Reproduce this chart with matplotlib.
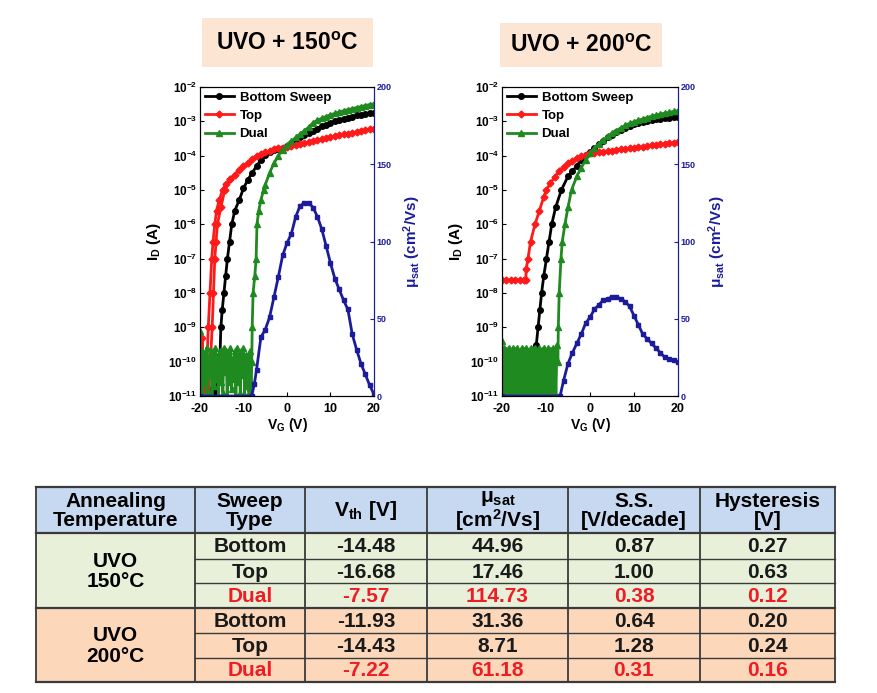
########################################################
# transfer curves (UVO 150 / 200 C) + parameter table
########################################################
import numpy as np
import matplotlib
matplotlib.use('Agg')
import matplotlib.pyplot as plt
from matplotlib.patches import Rectangle

plt.rcParams['font.family'] = ['Liberation Sans', 'DejaVu Sans']
plt.rcParams['font.weight'] = 'bold'
plt.rcParams['axes.labelweight'] = 'bold'
plt.rcParams['mathtext.fontset'] = 'custom'
plt.rcParams['mathtext.rm'] = 'Liberation Sans:bold'
plt.rcParams['mathtext.it'] = 'Liberation Sans:bold'
plt.rcParams['mathtext.bf'] = 'Liberation Sans:bold'
plt.rcParams['mathtext.default'] = 'regular'
plt.rcParams['axes.unicode_minus'] = False

# ---------------- data (log10 of I_D in A) ----------------
# UVO + 150C
vg_bot_150 = [-20, -19, -18, -17.5, -17.25, -17, -16.75, -16.5, -16.25, -16,
              -15.7, -15.4, -15.2, -14.9, -14.5, -14.1, -13.7, -13.2, -12.7, -12,
              -11, -10, -9, -8, -7, -6, -5, -4, -3, -2, -1, 0,
              1, 2, 3, 4, 5, 6, 7, 8, 9, 10, 11, 12, 13, 14, 15, 16, 17, 18, 19, 20]
logi_bot_150 = [-11.5, -11.5, -11.5, -11.1, -10.8, -11.2, -10.7, -11.1, -10.9, -11.2,
                -10.6, -9.8, -9.0, -8.5, -8.0, -7.5, -7.0, -6.5, -6.0, -5.6,
                -5.3, -4.95, -4.7, -4.5, -4.3, -4.12, -3.98, -3.9, -3.84, -3.8, -3.77, -3.72,
                -3.63, -3.55, -3.47, -3.4, -3.33, -3.27, -3.21, -3.15, -3.1, -3.05,
                -3.0, -2.96, -2.92, -2.89, -2.86, -2.83, -2.81, -2.79, -2.77, -2.75]

vg_top_150 = [-20, -19.75, -19.5, -19.25, -19, -18.75, -18.5, -18.4, -18.1, -17.7,
              -17.3, -17.0, -16.6, -16.2, -15.6, -14.8, -14, -13, -12, -11,
              -10, -9, -8, -7, -6, -5, -4, -3, -2, -1, 0,
              1, 2, 3, 4, 5, 6, 7, 8, 9, 10, 11, 12, 13, 14, 15, 16, 17, 18, 19, 20]
logi_top_150 = [-9.8, -10.6, -9.3, -11.2, -10.0, -10.8, -9.9, -10.0, -9.0, -8.0,
                -7.0, -6.5, -6.0, -5.6, -5.3, -5.0, -4.82, -4.68, -4.55, -4.42,
                -4.3, -4.2, -4.1, -4.0, -3.95, -3.9, -3.86, -3.82, -3.79, -3.77, -3.75,
                -3.72, -3.69, -3.66, -3.63, -3.6, -3.57, -3.54, -3.51, -3.49, -3.46,
                -3.43, -3.41, -3.38, -3.36, -3.33, -3.31, -3.28, -3.26, -3.23, -3.21]
# return branch of the top sweep (hysteresis)
vg_top2_150 = [-19.3, -19.0, -18.7, -18.4, -18.1, -17.8, -17.6, -17.2, -16.9, -16.6,
               -16.3, -16.0, -15.2, -14.3, -13]
logi_top2_150 = [-11.2, -10.1, -10.7, -10.2, -10.9, -10.3, -10.0, -9.0, -8.0, -7.0,
                 -6.5, -6.0, -5.5, -5.0, -4.68]

vg_noise_150 = [-20, -19.75, -19.5, -19.25, -19, -18.75, -18.5, -18.25, -18, -17.75,
                -17.5, -17.25, -17, -16.75, -16.5, -16.25, -16, -15.75, -15.5, -15.25,
                -15, -14.75, -14.5, -14.25, -14, -13.75, -13.5, -13.25, -13, -12.75,
                -12.5, -12.25, -12, -11.75, -11.5, -11.25, -11, -10.75, -10.5, -10.25,
                -10, -9.75, -9.5, -9.25, -9, -8.75, -8.5, -8.25]
logi_noise_150 = [-9.1, -10.9, -9.7, -11.0, -9.8, -10.6, -9.6, -10.9, -9.9, -10.4,
                  -9.7, -11.0, -9.8, -10.7, -9.6, -10.5, -9.9, -11.0, -9.7, -10.6,
                  -9.8, -10.9, -9.6, -10.3, -9.7, -11.0, -9.8, -10.6, -9.6, -10.8,
                  -9.9, -10.5, -9.7, -11.0, -9.6, -10.6, -9.8, -10.9, -9.7, -10.4,
                  -9.6, -11.0, -9.8, -10.7, -9.9, -10.9, -9.7, -11.0]
vg_dual_150 = [-8.1, -8.0, -7.8, -7.4, -7.1, -6.9, -6.5, -6, -5.4, -5,
               -4, -3, -2, -1, 0,
               1, 2, 3, 4, 5, 6, 7, 8, 9, 10, 11, 12, 13, 14, 15, 16, 17, 18, 19, 20]
logi_dual_150 = [-10.0, -9.0, -8.0, -7.5, -7.0, -6.0, -5.6, -5.3, -5.0, -4.85,
                 -4.5, -4.22, -4.0, -3.83, -3.7,
                 -3.58, -3.47, -3.37, -3.27, -3.17, -3.04, -2.97, -2.91, -2.86, -2.81,
                 -2.77, -2.73, -2.69, -2.66, -2.63, -2.6, -2.57, -2.54, -2.51, -2.49]

vg_mu_150 = [-20, -8.1, -7.5, -7, -6, -5, -4, -3, -2, -1, 0,
             1, 2, 3, 4, 5, 6, 7, 8, 9, 10, 11, 12, 13, 14, 15, 16, 17, 18, 19, 20]
mu_150 = [0, 0, 8, 17, 38, 43, 51, 64, 77, 91, 99,
          105, 116, 123, 125, 125, 122, 116, 108, 97, 86,
          76, 69, 62, 56, 40, 30, 21, 14, 7, 1]

# UVO + 200C
vg_bot_200 = [-20, -13, -12.9, -12.7, -12.2, -11.8, -11.4, -11.0, -10.5, -9.9,
              -9.3, -8.7, -7.8, -6.5, -5, -4, -3, -2, -1, 0,
              1, 2, 3, 4, 5, 6, 7, 8, 9, 10, 11, 12, 13, 14, 15, 16, 17, 18, 19, 20]
logi_bot_200 = [-11.5, -11.5, -11.0, -10.0, -9.5, -9.0, -8.5, -8.0, -7.5, -7.0,
                -6.5, -6.0, -5.5, -5.0, -4.6, -4.45, -4.3, -4.12, -3.98, -3.9,
                -3.77, -3.66, -3.56, -3.47, -3.39, -3.32, -3.25, -3.19, -3.14, -3.09,
                -3.05, -3.01, -2.99, -2.96, -2.94, -2.92, -2.9, -2.89, -2.88, -2.87]

vg_top_200 = [-20, -19, -18, -17, -16, -15, -14.6, -14.5, -14.1, -13.5,
              -12.5, -11.5, -10.5, -9.9, -9, -8, -7, -6, -5, -4, -3, -2, -1, 0,
              1, 2, 3, 4, 5, 6, 7, 8, 9, 10, 11, 12, 13, 14, 15, 16, 17, 18, 19, 20]
logi_top_200 = [-7.62, -7.62, -7.62, -7.62, -7.62, -7.62, -7.62, -7.3, -7.0, -6.5,
                -6.0, -5.6, -5.2, -5.0, -4.8, -4.62, -4.45, -4.32, -4.22, -4.15,
                -4.08, -4.02, -3.98, -3.93,
                -3.91, -3.9, -3.88, -3.87, -3.85, -3.84, -3.82, -3.81, -3.79, -3.78,
                -3.76, -3.74, -3.72, -3.7, -3.68, -3.67, -3.65, -3.63, -3.62, -3.6]

vg_noise_200 = vg_noise_150 + [-8, -7.75, -7.5]
logi_noise_200 = [-9.4, -11.0, -9.6, -11.0, -9.65, -11.0, -9.6, -11.0, -9.7, -11.0,
                  -9.6, -11.0, -9.65, -11.0, -9.6, -11.0, -9.7, -11.0, -9.6, -11.0,
                  -9.65, -11.0, -9.6, -11.0, -9.7, -11.0, -9.6, -11.0, -9.65, -11.0,
                  -9.6, -11.0, -9.7, -11.0, -9.6, -11.0, -9.65, -11.0, -9.6, -11.0,
                  -9.7, -11.0, -9.6, -11.0, -9.65, -11.0, -9.6, -11.0, -9.7, -11.0, -9.5]
vg_dual_200 = [-7.3, -7.2, -7.0, -6.6, -6.3, -5.7, -5, -4.2, -3, -2, -1, 0,
               1, 2, 3, 4, 5, 6, 7, 8, 9, 10, 11, 12, 13, 14, 15, 16, 17, 18, 19, 20]
logi_dual_200 = [-10.0, -9.0, -8.0, -7.0, -6.5, -6.0, -5.5, -5.0, -4.6, -4.35, -4.13, -3.93,
                 -3.78, -3.65, -3.54, -3.44, -3.35, -3.27, -3.19, -3.12, -3.06, -3.01,
                 -2.97, -2.93, -2.89, -2.85, -2.82, -2.79, -2.76, -2.74, -2.71, -2.69]

vg_mu_200 = [-20, -6.8, -6, -5, -4, -3, -2, -1, 0,
             1, 2, 3, 4, 5, 6, 7, 8, 9, 10, 11, 12, 13, 14, 15, 16, 17, 18, 19, 20]
mu_200 = [0, 0, 10, 21, 28, 34, 40, 47, 51,
          56, 59, 62, 63, 64, 64, 63, 61, 58, 52, 46,
          40, 37, 34, 31, 28, 25, 24, 23, 22]

# ---------------- table values ----------------
anneal = ['UVO\n150°C', 'UVO\n200°C']
sweep_types = ['Bottom', 'Top', 'Dual']
vth = [-14.48, -16.68, -7.57, -11.93, -14.43, -7.22]
mu_sat = [44.96, 17.46, 114.73, 31.36, 8.71, 61.18]
ss = [0.87, 1.00, 0.38, 0.64, 1.28, 0.31]
hyst = [0.27, 0.63, 0.12, 0.20, 0.24, 0.16]
headers = ['Annealing\nTemperature', 'Sweep\nType', 'V$_{th}$ [V]',
           'μ$_{sat}$\n[cm$^2$/Vs]', 'S.S.\n[V/decade]', 'Hysteresis\n[V]']

BLACK = 'black'
RED = '#ff1a1a'
GREEN = '#1f8a1f'
NAVY = '#1c1c9a'
MS = 4.0
LW = 2.0

W, H = 878, 693
fig = plt.figure(figsize=(W / 100, H / 100), dpi=100)


def px_axes(x0, y0, x1, y1):
    # axes placed by pixel box (top-left origin)
    return fig.add_axes([x0 / W, 1 - y1 / H, (x1 - x0) / W, (y1 - y0) / H])


def draw_panel(ax, bot, top, top2, noise, dual, mu):
    ax.plot(bot[0], 10 ** np.array(bot[1]), color=BLACK, marker='o', ms=MS, lw=LW,
            label='Bottom Sweep')
    ax.plot(top[0], 10 ** np.array(top[1]), color=RED, marker='D', ms=MS - 0.5, lw=LW,
            label='Top')
    if top2 is not None:
        ax.plot(top2[0], 10 ** np.array(top2[1]), color=RED, marker='D', ms=MS - 0.5, lw=LW)
    ax.plot(noise[0] + dual[0], 10 ** np.array(noise[1] + dual[1]), color=GREEN,
            marker='^', ms=MS, lw=LW, label='Dual')
    ax.set_yscale('log')
    ax.set_ylim(1e-11, 1e-2)
    ax.set_xlim(-20, 20)
    ax.set_xticks([-20, -10, 0, 10, 20])
    ax.set_yticks([10.0 ** k for k in range(-11, -1)])
    ax.minorticks_off()
    ax.tick_params(axis='y', direction='in', labelsize=8.5, length=3, pad=2)
    ax.tick_params(axis='x', direction='in', labelsize=9, length=3, pad=5)
    ax.set_xlabel('V$_G$ (V)', fontsize=10, labelpad=1)
    ax.set_ylabel('I$_D$ (A)', fontsize=11)
    ax.yaxis.set_label_coords(-0.21, 0.5)
    ax.legend(loc='upper left', frameon=False, fontsize=9.5, handlelength=2.2,
              handletextpad=0.45, labelspacing=0.45, borderaxespad=0.15,
              borderpad=0.2, numpoints=1)

    ax2 = ax.twinx()
    ax2.plot(mu[0], mu[1], color=NAVY, marker='s', ms=MS - 0.8, lw=LW)
    ax2.set_ylim(0, 200)
    ax2.set_yticks([0, 50, 100, 150, 200])
    ax2.tick_params(direction='in', labelsize=6.5, colors=NAVY, length=3, pad=2)
    ax2.spines['right'].set_color(NAVY)
    ax2.set_ylabel('μ$_{sat}$ (cm$^2$/Vs)', color=NAVY, fontsize=11)
    ax2.yaxis.set_label_coords(1.16, 0.5)


ax_l = px_axes(200, 87, 374, 396)
draw_panel(ax_l, (vg_bot_150, logi_bot_150), (vg_top_150, logi_top_150),
           (vg_top2_150, logi_top2_150), (vg_noise_150, logi_noise_150),
           (vg_dual_150, logi_dual_150), (vg_mu_150, mu_150))

ax_r = px_axes(502, 87, 678, 396)
draw_panel(ax_r, (vg_bot_200, logi_bot_200), (vg_top_200, logi_top_200), None,
           (vg_noise_200, logi_noise_200), (vg_dual_200, logi_dual_200),
           (vg_mu_200, mu_200))

# ---------------- overlay for titles and table, in pixel units ----------------
ov = fig.add_axes([0, 0, 1, 1])
ov.set_xlim(0, W)
ov.set_ylim(H, 0)
ov.axis('off')

PEACH = '#fde5d3'
ov.add_patch(Rectangle((202, 18), 171, 49, fc=PEACH, ec='none'))
ov.text(287, 44, 'UVO + 150$^o$C', ha='center', va='center', fontsize=16.5)
ov.add_patch(Rectangle((500, 23), 162, 44, fc=PEACH, ec='none'))
ov.text(581, 46, 'UVO + 200$^o$C', ha='center', va='center', fontsize=16.5)

col_x = [36, 195, 305, 427, 568, 700, 835]
row_y = [487, 533, 559, 583, 608, 633, 658, 682]
HEAD_BG = '#c6d9f1'
GREEN_BG = '#e9f0da'
ORANGE_BG = '#fcd7ba'
LINE = '#3a3a3a'
TXT_RED = '#f01c24'
FS = 15

ov.add_patch(Rectangle((col_x[0], row_y[0]), col_x[-1] - col_x[0], row_y[1] - row_y[0],
                       fc=HEAD_BG, ec='none'))
ov.add_patch(Rectangle((col_x[0], row_y[1]), col_x[-1] - col_x[0], row_y[4] - row_y[1],
                       fc=GREEN_BG, ec='none'))
ov.add_patch(Rectangle((col_x[0], row_y[4]), col_x[-1] - col_x[0], row_y[7] - row_y[4],
                       fc=ORANGE_BG, ec='none'))

# grid lines
for x in col_x:
    ov.plot([x, x], [row_y[0], row_y[-1]], color=LINE, lw=1.3)
for i, y in enumerate(row_y):
    if i in (0, 1, 4, 7):
        ov.plot([col_x[0], col_x[-1]], [y, y], color=LINE, lw=1.6)
    else:
        ov.plot([col_x[1], col_x[-1]], [y, y], color=LINE, lw=1.0)

# header
for j, h in enumerate(headers):
    cx = (col_x[j] + col_x[j + 1]) / 2
    ov.text(cx, (row_y[0] + row_y[1]) / 2 + 1, h, ha='center', va='center',
            fontsize=FS, linespacing=0.95)

# annealing groups
for g, name in enumerate(anneal):
    cy = (row_y[1 + 3 * g] + row_y[4 + 3 * g]) / 2 + 1
    ov.text((col_x[0] + col_x[1]) / 2, cy, name, ha='center', va='center',
            fontsize=FS, linespacing=1.1)

# data rows
for r in range(6):
    cy = (row_y[r + 1] + row_y[r + 2]) / 2 + 1
    color = TXT_RED if r % 3 == 2 else '#1a1a1a'
    cells = [sweep_types[r % 3], '%.2f' % vth[r], '%.2f' % mu_sat[r],
             '%.2f' % ss[r], '%.2f' % hyst[r]]
    for j, s in enumerate(cells):
        cx = (col_x[j + 1] + col_x[j + 2]) / 2
        ov.text(cx, cy, s, ha='center', va='center', fontsize=FS, color=color)

fig.savefig('out.png', dpi=100)
